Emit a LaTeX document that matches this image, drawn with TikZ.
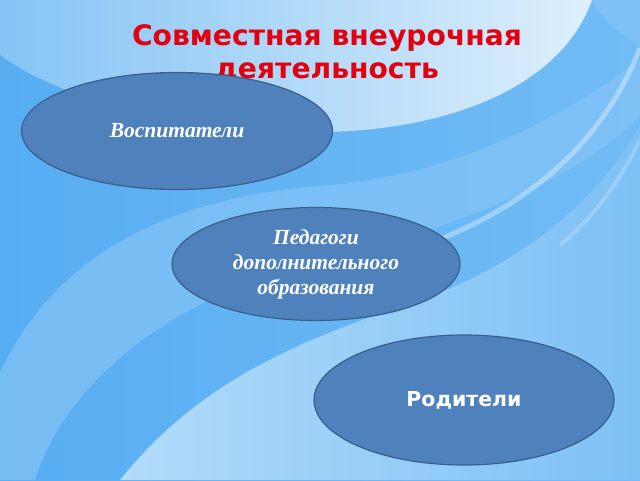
\documentclass[tikz,border=0pt]{standalone}
\usepackage{fontspec}
\setmainfont{Liberation Serif}
\newfontfamily\dejavu{DejaVu Sans}
\usetikzlibrary{shapes.geometric}
\definecolor{ellfill}{HTML}{4F81BD}
\definecolor{elldraw}{HTML}{3A5F8B}
\definecolor{titlered}{HTML}{E3000F}
\definecolor{bgleft}{HTML}{56ADF2}
\definecolor{bgright}{HTML}{72BCF5}
\definecolor{toplight}{HTML}{DDEFFC}
\definecolor{topmid}{HTML}{86C4F5}
\definecolor{botlight}{HTML}{B2DBF9}
\definecolor{botmid}{HTML}{7DC1F5}
\definecolor{bandlight}{HTML}{82C3F6}
\definecolor{corner}{HTML}{7CC0F5}
\tikzset{
  oval/.style={ellipse, draw=elldraw, line width=1.2pt, fill=ellfill, inner sep=0pt, text=white, align=center},
  serifit/.style={font=\fontsize{21.5}{25}\selectfont\bfseries\itshape},
  sansbold/.style={font=\dejavu\bfseries\fontsize{20.5}{24}\selectfont},
  titletext/.style={font=\dejavu\bfseries\fontsize{28.2}{33}\selectfont, text=titlered, align=center}
}
\begin{document}
\begin{tikzpicture}[x=1pt,y=-1pt]
\useasboundingbox (0,0) rectangle (640,480);
% background
\shade[left color=bgleft, right color=bgright] (0,0) rectangle (640,480);
% lower-left light band
\fill[bandlight, opacity=0.75] (0,372) .. controls (40,290) and (120,200) .. (330,185)
  .. controls (450,175) and (560,120) .. (640,60) -- (640,115)
  .. controls (560,200) and (400,240) .. (260,280)
  .. controls (140,320) and (60,400) .. (35,480) -- (0,480) -- cycle;
% bottom light region
\shade[left color=botlight, right color=botmid] (120,480) .. controls (200,380) and (300,340) .. (420,300)
  .. controls (520,265) and (600,200) .. (640,125) -- (640,480) -- cycle;
% top light region
\shade[left color=topmid, right color=toplight] (0,0) -- (592,0) .. controls (560,90) and (440,135) .. (300,132)
  .. controls (180,128) and (60,100) .. (0,55) -- cycle;
% top right corner
\fill[corner] (592,0) -- (640,0) -- (640,46) .. controls (620,35) and (600,18) .. (592,0) -- cycle;
% white swoosh stripes
\draw[white, opacity=0.35, line width=5pt] (640,48) .. controls (600,150) and (520,210) .. (425,245);
\draw[white, opacity=0.2, line width=4pt] (640,140) .. controls (615,190) and (590,220) .. (560,245);
% title
\node[titletext] (title) at (327,53) {Совместная внеурочная\\деятельность};
% ellipses
\node[oval, serifit, minimum width=311pt, minimum height=117pt] (vos) at (177,131) {Воспитатели};
\node[oval, serifit, minimum width=288pt, minimum height=113pt] (ped) at (316,264) {Педагоги\\дополнительного\\образования};
\node[oval, sansbold, minimum width=300pt, minimum height=130pt] (rod) at (464,400) {Родители};
\end{tikzpicture}
\end{document}
